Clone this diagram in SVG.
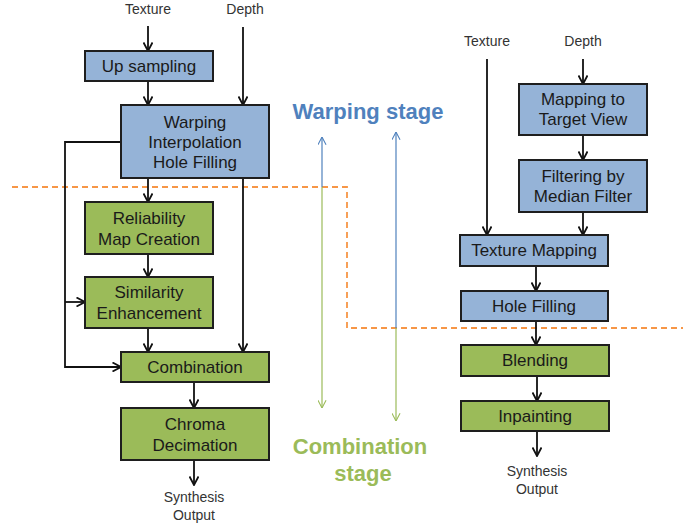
<svg xmlns="http://www.w3.org/2000/svg" width="696" height="526" viewBox="0 0 696 526">
<style>
.box rect{stroke:#1e1e1e;stroke-width:2}
.blue rect{fill:#95b3d7}
.green rect{fill:#9bbb59}
.box text{font-family:"Liberation Sans",Arial,sans-serif;font-size:17px;fill:#1a1a1a;text-anchor:middle}
.lbl{font-family:"Liberation Sans",Arial,sans-serif;font-size:14px;fill:#333;text-anchor:middle}
.conn{stroke:#111;stroke-width:1.8;fill:none}
.stage{font-family:"Liberation Sans",Arial,sans-serif;font-size:22px;font-weight:bold;text-anchor:middle}
</style>
<defs>
<marker id="ah" viewBox="0 0 10 10" refX="9.5" refY="5" markerWidth="10" markerHeight="10" markerUnits="userSpaceOnUse" orient="auto">
<path d="M1,0.5 L9.5,5 L1,9.5" fill="none" stroke="#111" stroke-width="1.8"/>
</marker>
<marker id="ahb" viewBox="0 0 10 10" refX="9.5" refY="5" markerWidth="9" markerHeight="9" markerUnits="userSpaceOnUse" orient="auto">
<path d="M1,0.5 L9.5,5 L1,9.5" fill="none" stroke="#4f81bd" stroke-width="1.2"/>
</marker>
<marker id="ahg" viewBox="0 0 10 10" refX="9.5" refY="5" markerWidth="9" markerHeight="9" markerUnits="userSpaceOnUse" orient="auto">
<path d="M1,0.5 L9.5,5 L1,9.5" fill="none" stroke="#9bbb59" stroke-width="1.2"/>
</marker>
</defs>
<rect width="696" height="526" fill="#fff"/>

<g id="labels">
<text class="lbl" x="148" y="14">Texture</text>
<text class="lbl" x="245" y="14">Depth</text>
<text class="lbl" x="194" y="502">Synthesis</text>
<text class="lbl" x="194" y="520">Output</text>
<text class="lbl" x="487" y="46">Texture</text>
<text class="lbl" x="583" y="46">Depth</text>
<text class="lbl" x="537" y="476">Synthesis</text>
<text class="lbl" x="537" y="494">Output</text>
</g>

<g id="stage-divider">
<path d="M12,187 L347,187 L347,328 L683,328" fill="none" stroke="#f79646" stroke-width="1.8" stroke-dasharray="6,4"/>
</g>

<g id="stage-arrows">
<line x1="322" y1="187" x2="322" y2="137" stroke="#4f81bd" stroke-width="1.2" marker-end="url(#ahb)"/>
<line x1="322" y1="187" x2="322" y2="408" stroke="#9bbb59" stroke-width="1.2" marker-end="url(#ahg)"/>
<line x1="396" y1="328" x2="396" y2="132" stroke="#4f81bd" stroke-width="1.2" marker-end="url(#ahb)"/>
<line x1="396" y1="328" x2="396" y2="421" stroke="#9bbb59" stroke-width="1.2" marker-end="url(#ahg)"/>
<text class="stage" x="368" y="119" fill="#4f81bd">Warping stage</text>
<text class="stage" x="360" y="454" fill="#9bbb59">Combination</text>
<text class="stage" x="363" y="481" fill="#9bbb59">stage</text>
</g>

<g id="connectors">
<line class="conn" x1="148" y1="26" x2="148" y2="51" marker-end="url(#ah)"/>
<line class="conn" x1="148" y1="81" x2="148" y2="105" marker-end="url(#ah)"/>
<line class="conn" x1="243" y1="27" x2="243" y2="105" marker-end="url(#ah)"/>
<line class="conn" x1="148" y1="178" x2="148" y2="202" marker-end="url(#ah)"/>
<line class="conn" x1="243" y1="178" x2="243" y2="352" marker-end="url(#ah)"/>
<line class="conn" x1="148" y1="254" x2="148" y2="277" marker-end="url(#ah)"/>
<line class="conn" x1="148" y1="328" x2="148" y2="352" marker-end="url(#ah)"/>
<polyline class="conn" points="121,142 65,142 65,367 121,367" marker-end="url(#ah)"/>
<line class="conn" x1="65" y1="302" x2="85" y2="302" marker-end="url(#ah)"/>
<line class="conn" x1="194" y1="382" x2="194" y2="408" marker-end="url(#ah)"/>
<line class="conn" x1="194" y1="460" x2="194" y2="485" marker-end="url(#ah)"/>
<line class="conn" x1="487" y1="59" x2="487" y2="235" marker-end="url(#ah)"/>
<line class="conn" x1="583" y1="59" x2="583" y2="84" marker-end="url(#ah)"/>
<line class="conn" x1="583" y1="135" x2="583" y2="160" marker-end="url(#ah)"/>
<line class="conn" x1="583" y1="212" x2="583" y2="235" marker-end="url(#ah)"/>
<line class="conn" x1="536" y1="266" x2="536" y2="291" marker-end="url(#ah)"/>
<line class="conn" x1="536" y1="321" x2="536" y2="345" marker-end="url(#ah)"/>
<line class="conn" x1="537" y1="376" x2="537" y2="401" marker-end="url(#ah)"/>
<line class="conn" x1="537" y1="431" x2="537" y2="456" marker-end="url(#ah)"/>
</g>

<g id="up-sampling" class="box blue">
<rect x="85" y="51" width="128" height="30"/>
<text x="149" y="72">Up sampling</text>
</g>
<g id="warping" class="box blue">
<rect x="121" y="105" width="148" height="73"/>
<text x="195" y="128">Warping</text>
<text x="195" y="148">Interpolation</text>
<text x="195" y="168">Hole Filling</text>
</g>
<g id="reliability" class="box green">
<rect x="85" y="202" width="128" height="52"/>
<text x="149" y="224">Reliability</text>
<text x="149" y="245">Map Creation</text>
</g>
<g id="similarity" class="box green">
<rect x="85" y="277" width="128" height="51"/>
<text x="149" y="298">Similarity</text>
<text x="149" y="319">Enhancement</text>
</g>
<g id="combination" class="box green">
<rect x="121" y="352" width="148" height="30"/>
<text x="195" y="373">Combination</text>
</g>
<g id="chroma" class="box green">
<rect x="121" y="408" width="148" height="52"/>
<text x="195" y="430">Chroma</text>
<text x="195" y="451">Decimation</text>
</g>

<g id="mapping" class="box blue">
<rect x="519" y="84" width="128" height="51"/>
<text x="583" y="105">Mapping to</text>
<text x="583" y="125">Target View</text>
</g>
<g id="filtering" class="box blue">
<rect x="519" y="160" width="128" height="52"/>
<text x="583" y="182">Filtering by</text>
<text x="583" y="202">Median Filter</text>
</g>
<g id="texture-mapping" class="box blue">
<rect x="460" y="235" width="148" height="31"/>
<text x="534" y="256">Texture Mapping</text>
</g>
<g id="hole-filling" class="box blue">
<rect x="461" y="291" width="147" height="30"/>
<text x="534" y="312">Hole Filling</text>
</g>
<g id="blending" class="box green">
<rect x="461" y="345" width="148" height="31"/>
<text x="535" y="366">Blending</text>
</g>
<g id="inpainting" class="box green">
<rect x="461" y="401" width="148" height="30"/>
<text x="535" y="422">Inpainting</text>
</g>
</svg>
